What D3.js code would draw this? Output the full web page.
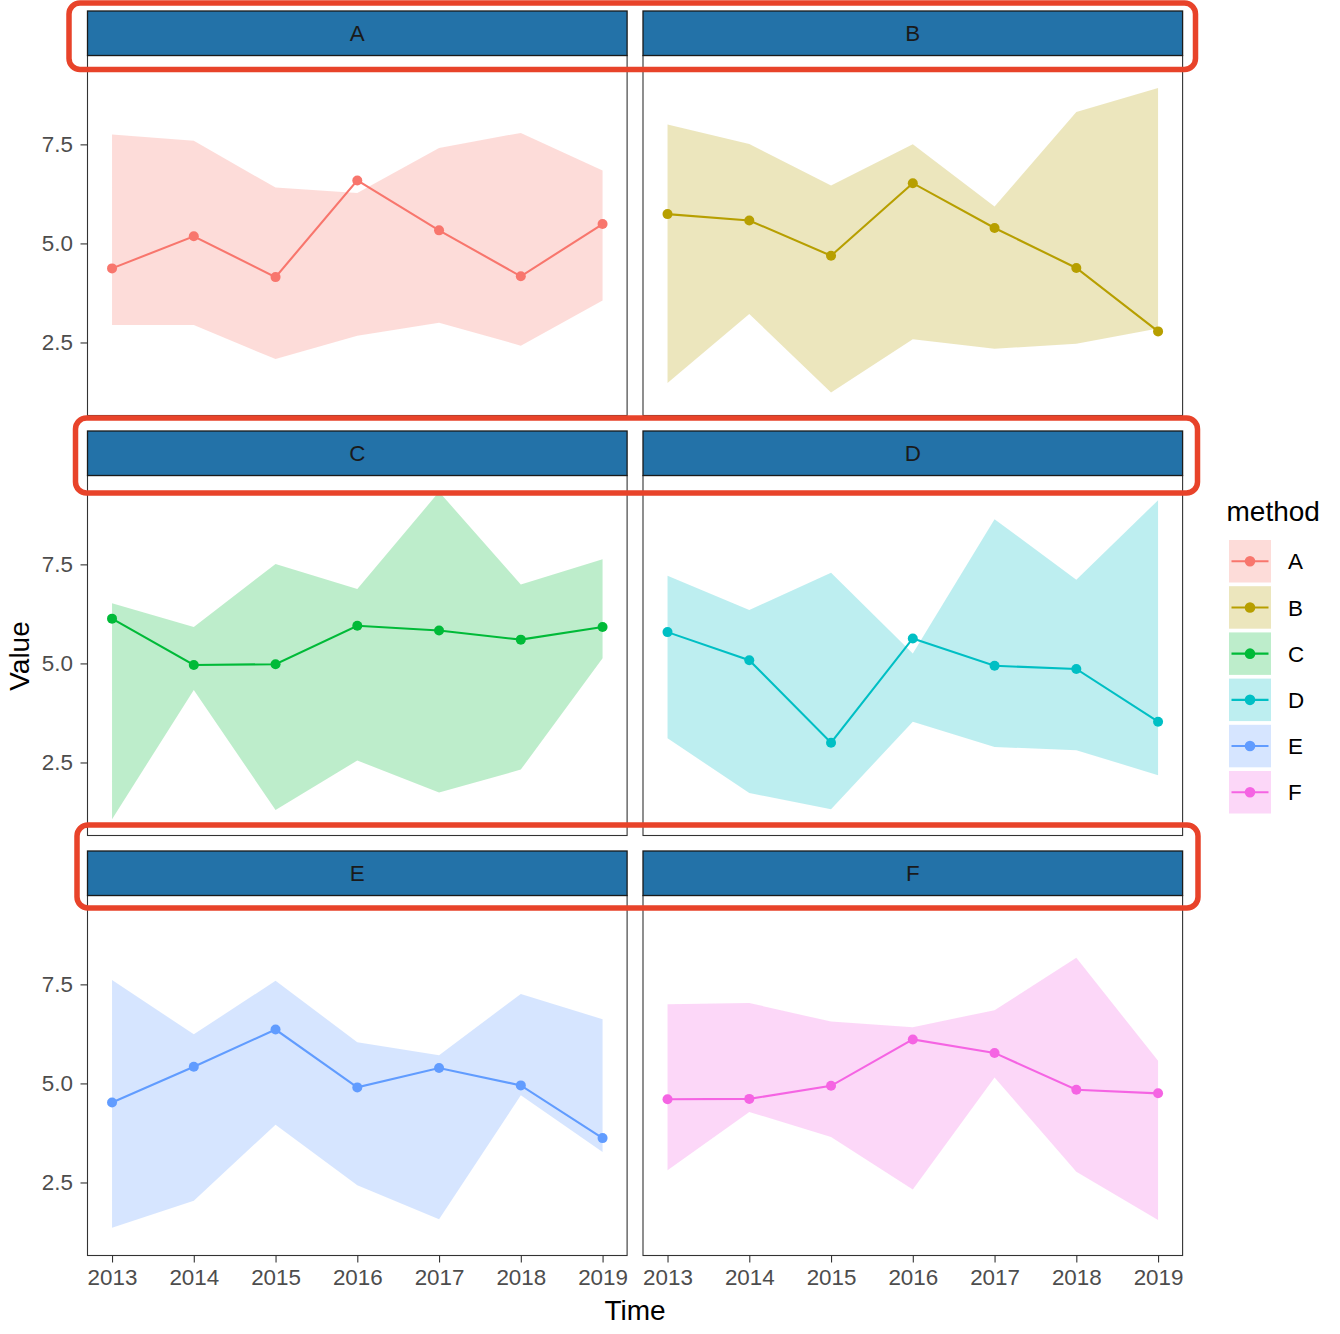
<!DOCTYPE html>
<html>
<head>
<meta charset="utf-8">
<script src="https://cdn.jsdelivr.net/npm/d3@7"></script>
<style>
  html, body { margin: 0; padding: 0; background: #ffffff; }
  svg { display: block; font-family: "Liberation Sans", Arial, Helvetica, sans-serif; }
</style>
</head>
<body>
<svg id="chart" width="1340" height="1334"></svg>
<script>
// ---------------- data ----------------
const years = [2013, 2014, 2015, 2016, 2017, 2018, 2019];
const methods = ["A", "B", "C", "D", "E", "F"];
const methodColors = ["#F8766D", "#B79F00", "#00BA38", "#00BFC4", "#619CFF", "#F564E3"];
const yTickValues = [2.5, 5.0, 7.5];

const meanA = [4.37, 5.18, 4.15, 6.59, 5.33, 4.17, 5.49];
const lowA  = [2.94, 2.94, 2.08, 2.67, 3.00, 2.42, 3.56];
const highA = [7.75, 7.59, 6.41, 6.27, 7.41, 7.79, 6.84];

const meanB = [5.74, 5.58, 4.69, 6.52, 5.39, 4.38, 2.78];
const lowB  = [1.48, 3.22, 1.24, 2.58, 2.34, 2.47, 2.85];
const highB = [8.00, 7.51, 6.46, 7.50, 5.93, 8.32, 8.92];

const meanC = [6.13, 4.96, 4.98, 5.95, 5.83, 5.60, 5.92];
const lowC  = [1.07, 4.33, 1.30, 2.55, 1.74, 2.32, 5.13];
const highC = [6.52, 5.92, 7.51, 6.88, 9.33, 6.99, 7.63];

const meanD = [5.79, 5.08, 3.00, 5.63, 4.94, 4.86, 3.53];
const lowD  = [3.11, 1.73, 1.32, 3.53, 2.89, 2.81, 2.18];
const highD = [7.21, 6.35, 7.29, 5.25, 8.64, 7.11, 9.12];

const meanE = [4.52, 5.42, 6.36, 4.90, 5.39, 4.95, 3.62];
const lowE  = [1.36, 2.04, 3.96, 2.43, 1.57, 4.70, 3.27];
const highE = [7.61, 6.24, 7.59, 6.04, 5.71, 7.26, 6.62];

const meanF = [4.60, 4.61, 4.94, 6.11, 5.77, 4.84, 4.75];
const lowF  = [2.81, 4.28, 3.65, 2.32, 5.15, 2.77, 1.55];
const highF = [7.00, 7.03, 6.56, 6.42, 6.85, 8.17, 5.57];

const meanSeries = [meanA, meanB, meanC, meanD, meanE, meanF];
const lowSeries  = [lowA, lowB, lowC, lowD, lowE, lowF];
const highSeries = [highA, highB, highC, highD, highE, highF];

// --------------- build table ---------------
const table = methods.map((m, i) => ({
  method: m,
  color: methodColors[i],
  values: years.map((yr, j) => ({
    year: yr, mean: meanSeries[i][j], low: lowSeries[i][j], high: highSeries[i][j]
  }))
}));

// --------------- layout ---------------
const ribbonOpacity = 0.26;
const svg = d3.select("#chart");
const colX = [87.5, 643];
const panelW = 539.6;
const stripTop = [11, 431, 851];
const stripH = 44.5;
const panelH = 360;

const allVals = table.flatMap(t => t.values.flatMap(v => [v.mean, v.low, v.high]));
const yMin = d3.min(allVals), yMax = d3.max(allVals);
const yExt = yMax - yMin;
const y = d3.scaleLinear().domain([yMin - 0.05 * yExt, yMax + 0.05 * yExt]).range([panelH, 0]);
const xMin = d3.min(years), xMax = d3.max(years);
const xExt = xMax - xMin;
const x = d3.scaleLinear().domain([xMin - 0.05 * xExt, xMax + 0.05 * xExt]).range([0, panelW]);

const area = d3.area().x(d => x(d.year)).y0(d => y(d.low)).y1(d => y(d.high));
const line = d3.line().x(d => x(d.year)).y(d => y(d.mean));

table.forEach((t, i) => {
  const col = i % 2, row = Math.floor(i / 2);
  const px = colX[col];
  const sy = stripTop[row];
  const py = sy + stripH;
  const g = svg.append("g").attr("transform", `translate(${px},${py})`);

  g.append("path").datum(t.values).attr("d", area)
    .attr("fill", t.color).attr("fill-opacity", ribbonOpacity);
  g.append("path").datum(t.values).attr("d", line)
    .attr("fill", "none").attr("stroke", t.color).attr("stroke-width", 2.1);
  g.selectAll("circle").data(t.values).join("circle")
    .attr("cx", d => x(d.year)).attr("cy", d => y(d.mean)).attr("r", 5)
    .attr("fill", t.color);

  // panel border
  g.append("rect").attr("x", 0).attr("y", 0).attr("width", panelW).attr("height", panelH)
    .attr("fill", "none").attr("stroke", "#333333").attr("stroke-width", 1.1);

  // strip
  svg.append("rect").attr("x", px).attr("y", sy).attr("width", panelW).attr("height", stripH)
    .attr("fill", "#2372A8").attr("stroke", "#1a1a1a").attr("stroke-width", 1.3);
  svg.append("text").attr("x", px + panelW / 2).attr("y", sy + stripH / 2)
    .attr("dy", "0.36em").attr("text-anchor", "middle")
    .attr("font-size", 22.4).attr("fill", "#1a1a1a").text(t.method);

  if (col === 0) {
    const ax = g.append("g").call(d3.axisLeft(y).tickValues(yTickValues)
      .tickFormat(d3.format(".1f")).tickSize(7).tickPadding(7.5));
    ax.select(".domain").remove();
    ax.selectAll(".tick line").attr("stroke", "#333333").attr("stroke-width", 1.1);
    ax.selectAll(".tick text").attr("font-size", 22.4).attr("fill", "#4D4D4D")
      .attr("font-family", "Liberation Sans, Arial, sans-serif");
  }
  if (row === 2) {
    const ax = g.append("g").attr("transform", `translate(0,${panelH})`)
      .call(d3.axisBottom(x).tickValues(years).tickFormat(d3.format("d")).tickSize(7).tickPadding(7));
    ax.select(".domain").remove();
    ax.selectAll(".tick line").attr("stroke", "#333333").attr("stroke-width", 1.1);
    ax.selectAll(".tick text").attr("font-size", 22.4).attr("fill", "#4D4D4D")
      .attr("font-family", "Liberation Sans, Arial, sans-serif");
  }
});

// axis titles
svg.append("text").attr("x", 635).attr("y", 1320).attr("text-anchor", "middle")
  .attr("font-size", 28).attr("fill", "#000").text("Time");
svg.append("text").attr("transform", "translate(29,656) rotate(-90)").attr("text-anchor", "middle")
  .attr("font-size", 28).attr("fill", "#000").text("Value");

// legend
const leg = svg.append("g");
leg.append("text").attr("x", 1226.5).attr("y", 521).attr("font-size", 28).attr("fill", "#000").text("method");
table.forEach((t, i) => {
  const ky = 540 + i * 46.2;
  leg.append("rect").attr("x", 1229).attr("y", ky).attr("width", 42).attr("height", 42.5)
    .attr("fill", t.color).attr("fill-opacity", ribbonOpacity);
  leg.append("line").attr("x1", 1231.5).attr("x2", 1268.5).attr("y1", ky + 21.25).attr("y2", ky + 21.25)
    .attr("stroke", t.color).attr("stroke-width", 2.1);
  leg.append("circle").attr("cx", 1250).attr("cy", ky + 21.25).attr("r", 5.3).attr("fill", t.color);
  leg.append("text").attr("x", 1288).attr("y", ky + 21.25).attr("dy", "0.36em")
    .attr("font-size", 22.4).attr("fill", "#000").text(t.method);
});

// red highlight boxes
const boxes = [
  {x: 69, y: 3, w: 1126.5, h: 66.5},
  {x: 75.5, y: 418, w: 1122, h: 75},
  {x: 77, y: 825, w: 1121, h: 83}
];
svg.selectAll("rect.hl").data(boxes).join("rect").attr("class", "hl")
  .attr("x", d => d.x).attr("y", d => d.y).attr("width", d => d.w).attr("height", d => d.h)
  .attr("rx", 11).attr("ry", 11)
  .attr("fill", "none").attr("stroke", "#E8432A").attr("stroke-width", 5.5);
</script>
</body>
</html>
